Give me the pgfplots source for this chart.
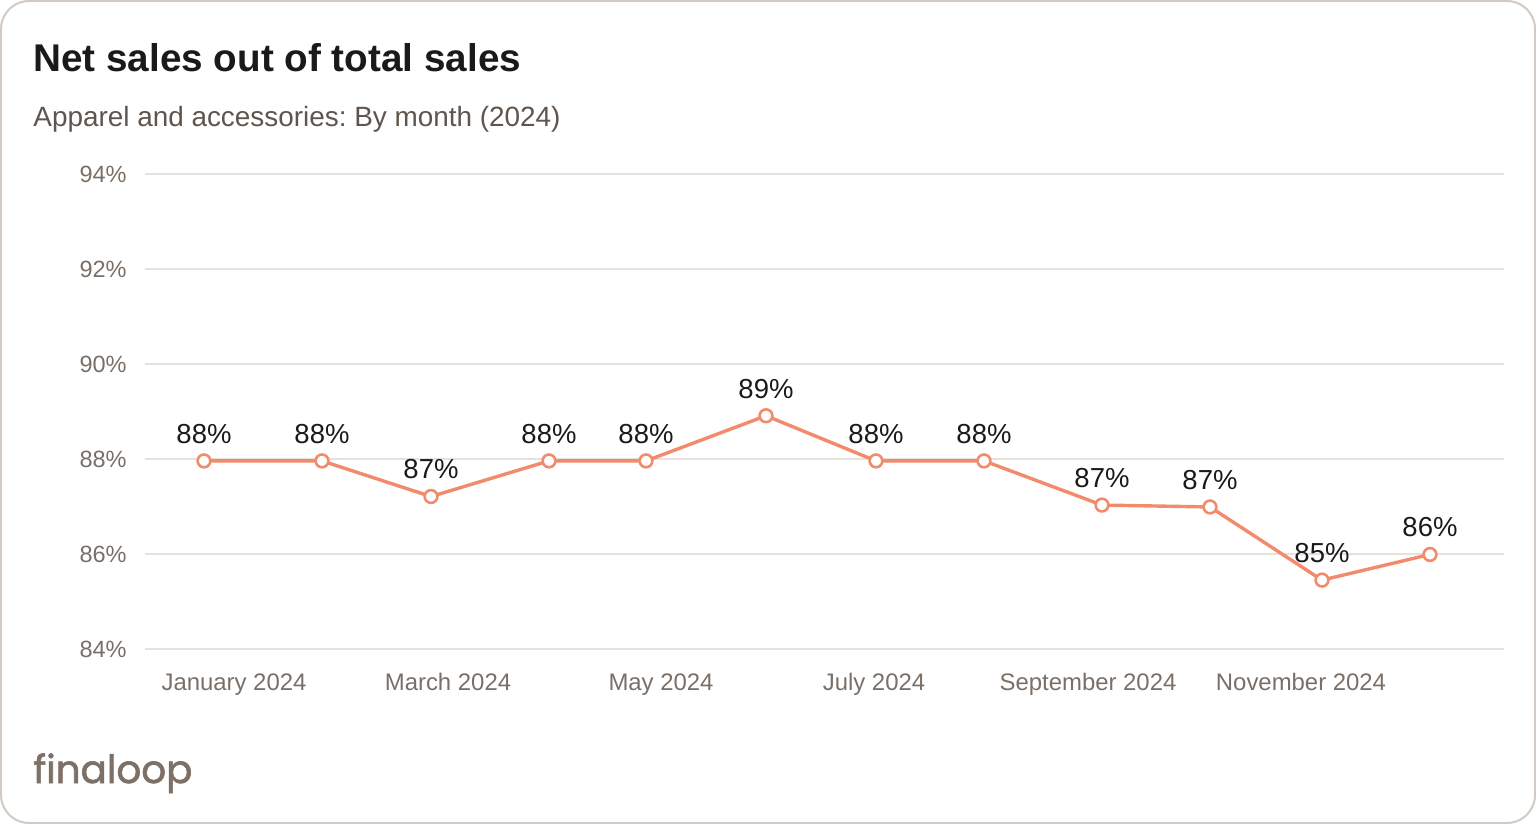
\documentclass[border=0pt]{standalone}
\usepackage{fontspec}
\setmainfont{Liberation Sans}
\newfontfamily\logofont[FakeBold=1.6]{Poppins}
\usepackage{pgfplots}
\pgfplotsset{compat=1.18}
\frenchspacing
\definecolor{salmon}{RGB}{242,139,108}
\definecolor{tickgray}{RGB}{122,111,102}
\definecolor{subgray}{RGB}{95,85,77}
\definecolor{gridgray}{RGB}{230,225,221}
\definecolor{framegray}{RGB}{210,202,195}
\definecolor{logogray}{RGB}{125,113,103}
\definecolor{inkblack}{RGB}{26,26,26}

\begin{document}
\begin{tikzpicture}
\useasboundingbox (0,0) rectangle (768bp,412bp);
\draw[framegray, line width=1bp, rounded corners=14bp] (0.5bp,0.5bp) rectangle (767.5bp,411.5bp);

% title block
\node[anchor=base west, inner sep=0pt, text=inkblack,
      font=\fontsize{19.4}{22}\selectfont\bfseries] at (16.5bp,376bp) {Net sales out of total sales};
\node[anchor=base west, inner sep=0pt, text=subgray,
      font=\fontsize{14}{16}\selectfont] at (16.5bp,348.7bp) {Apparel and accessories: By month (2024)};

\begin{axis}[
    at={(72.5bp,87.5bp)}, anchor=south west,
    width=679.5bp, height=237.5bp, scale only axis,
    xmin=145, xmax=1504,
    ymin=84, ymax=94,
    clip=false,
    /pgf/number format/assume math mode=true,
    axis line style={draw=none},
    major tick length=0pt,
    ymajorgrids=true,
    grid style={gridgray, line width=0.75bp},
    ytick={84,86,88,90,92,94},
    yticklabels={84\%,86\%,88\%,90\%,92\%,94\%},
    yticklabel style={font=\fontsize{11.8}{14}\selectfont, text=tickgray,
                      anchor=east, inner sep=0pt, xshift=-9bp},
    xtick={234,448,661,874,1088,1301},
    xticklabels={January 2024, March 2024, May 2024, July 2024, September 2024, November 2024},
    xticklabel style={font=\fontsize{12}{14}\selectfont, text=tickgray,
                      anchor=north, inner sep=0pt, yshift=-12bp},
]
% x: position of each month along the axis, y: net share of total sales (%)
\addplot[salmon, line width=1.7bp,
    mark=*, mark size=3.2bp,
    mark options={fill=white, draw=salmon, line width=1.3bp},
    nodes near coords={\pgfmathprintnumber[fixed,precision=0]{\pgfplotspointmeta}\%},
    nodes near coords style={font=\fontsize{13.8}{16}\selectfont, text=inkblack,
                             anchor=south, inner sep=0pt, yshift=8bp},
] coordinates {
    (204,87.96) (322,87.96) (431,87.21) (549,87.96) (646,87.96) (766,88.91)
    (876,87.96) (984,87.96) (1102,87.03) (1210,86.99) (1322,85.45) (1430,85.99)
};
\end{axis}

\node[anchor=base west, inner sep=0pt, text=logogray,
      font=\logofont\fontsize{19.5}{22}\selectfont] at (16.5bp,20.5bp) {finaloop};
\end{tikzpicture}
\end{document}
